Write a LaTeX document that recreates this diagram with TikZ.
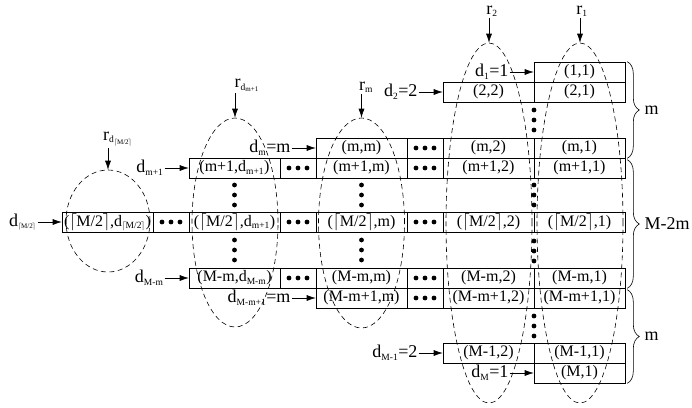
\documentclass[tikz,border=0pt]{standalone}
\usepackage{fontspec}
\setmainfont{Liberation Serif}
\usetikzlibrary{arrows.meta, positioning, shapes.geometric, decorations.pathreplacing}

\newcommand{\sbs}[1]{\textsubscript{\fontsize{9.5}{10}\selectfont #1}}
\newcommand{\ssbs}[1]{\textsubscript{\fontsize{7}{7}\selectfont #1}}
\newcommand{\ceilM}{\mbox{$\lceil$\kern-0.6pt M/2\kern-0.6pt$\rceil$}}
\newcommand{\vdotsat}[2]{\fill (#1,#2-10) circle (2.4pt) (#1,#2) circle (2.4pt) (#1,#2+10) circle (2.4pt);}

\begin{document}
\begin{tikzpicture}[x=1pt, y=-1pt, line width=0.6pt, >={Latex[length=9pt,width=6pt]},
    cell/.style={draw, rectangle, minimum width=91pt, minimum height=20pt, inner sep=0pt, font=\fontsize{16}{18}\selectfont},
    gap/.style={draw, rectangle, minimum width=36pt, minimum height=20pt, inner sep=0pt,
      path picture={\fill (path picture bounding box.center) circle (2.4pt) ++(-9pt,0pt) circle (2.4pt) ++(18pt,0pt) circle (2.4pt);}},
    lab/.style={inner sep=1pt, font=\fontsize{18}{20}\selectfont},
    ring/.style={draw, ellipse, dash pattern=on 5pt off 3.5pt, inner sep=0pt}]
  \useasboundingbox (0,0) rectangle (692,407);

  % cells
  \node[cell] (a1) at (579.5,72) {(1,1)};

  \node[cell] (b1) at (579.5,92) {(2,1)};
  \node[cell] (b2) at (488.5,92) {(2,2)};

  \node[cell] (m1) at (579.5,148) {(m,1)};
  \node[cell] (m2) at (488.5,148) {(m,2)};
  \node[gap] (mg3) at (425,148) {};
  \node[cell] (mm) at (361.5,148) {(m,m)};

  \node[cell] (n1) at (579.5,168) {(m+1,1)};
  \node[cell] (n2) at (488.5,168) {(m+1,2)};
  \node[gap] (ng3) at (425,168) {};
  \node[cell] (nm) at (361.5,168) {(m+1,m)};
  \node[gap] (ng2) at (298,168) {};
  \node[cell] (nd) at (234.5,168) {(m+1,d\sbs{m+1})};

  \node[cell] (h1) at (579.5,222) {(\ceilM,1)};
  \node[cell] (h2) at (488.5,222) {(\ceilM,2)};
  \node[gap] (hg3) at (425,222) {};
  \node[cell] (hm) at (361.5,222) {(\ceilM,m)};
  \node[gap] (hg2) at (298,222) {};
  \node[cell] (hd) at (234.5,222) {(\ceilM,d\sbs{m+1})};
  \node[gap] (hg1) at (171,222) {};
  \node[cell] (hh) at (107.5,222) {(\ceilM,d\sbs{\ceilM})};

  \node[cell] (k1) at (579.5,278) {(M-m,1)};
  \node[cell] (k2) at (488.5,278) {(M-m,2)};
  \node[gap] (kg3) at (425,278) {};
  \node[cell] (km) at (361.5,278) {(M-m,m)};
  \node[gap] (kg2) at (298,278) {};
  \node[cell] (kd) at (234.5,278) {(M-m,d\sbs{M-m})};

  \node[cell] (l1) at (579.5,298) {(M-m+1,1)};
  \node[cell] (l2) at (488.5,298) {(M-m+1,2)};
  \node[gap] (lg3) at (425,298) {};
  \node[cell] (lm) at (361.5,298) {(M-m+1,m)};

  \node[cell] (p1) at (579.5,353) {(M-1,1)};
  \node[cell] (p2) at (488.5,353) {(M-1,2)};

  \node[cell] (q1) at (579.5,373) {(M,1)};

  % vertical dots
  \vdotsat{234.5}{195} \vdotsat{234.5}{250}
  \vdotsat{361.5}{195} \vdotsat{361.5}{250}
  \vdotsat{534}{120} \vdotsat{534}{195} \vdotsat{534}{251} \vdotsat{534}{326}

  % inputs
  \node[lab, left=24pt of a1] (da) {d\sbs{1}=1};
  \node[lab, left=24pt of b2] (db) {d\sbs{2}=2};
  \node[lab, left=24pt of mm] (dm) {d\sbs{m}=m};
  \node[lab, left=24pt of nd] (dn) {d\sbs{m+1}};
  \node[lab, left=24pt of hh] (dh) {d\ssbs{\ceilM}};
  \node[lab, left=24pt of kd] (dk) {d\sbs{M-m}};
  \node[lab, left=24pt of lm] (dl) {d\sbs{M-m+1}=m};
  \node[lab, left=24pt of p2] (dp) {d\sbs{M-1}=2};
  \node[lab, left=24pt of q1] (dq) {d\sbs{M}=1};
  \draw[->] (da) -- (a1);
  \draw[->] (db) -- (b2);
  \draw[->] (dm) -- (mm);
  \draw[->] (dn) -- (nd);
  \draw[->] (dh) -- (hh);
  \draw[->] (dk) -- (kd);
  \draw[->] (dl) -- (lm);
  \draw[->] (dp) -- (p2);
  \draw[->] (dq) -- (q1);

  % dashed rings
  \node[ring, minimum width=86pt, minimum height=360pt] (e1) at (580,223) {};
  \node[ring, minimum width=86pt, minimum height=360pt] (e2) at (489,223) {};
  \node[ring, minimum width=86pt, minimum height=210pt] (em) at (361.5,223) {};
  \node[ring, minimum width=86pt, minimum height=209pt] (ed) at (235,222.5) {};
  \node[ring, minimum width=84pt, minimum height=102pt] (eh) at (108,221) {};

  \node[lab, anchor=south] (r1) at (582,18) {r\sbs{1}};
  \node[lab, anchor=south] (r2) at (492,18) {r\sbs{2}};
  \node[lab, anchor=south] (rm) at (366,94) {r\sbs{m}};
  \node[lab, anchor=south] (rd) at (247,93) {r\sbs{d\ssbs{m+1}}};
  \node[lab, anchor=south] (rh) at (118,148) {r\sbs{d\ssbs{\ceilM}}};
  \draw[->] (e1.north |- r1.south) -- (e1.north);
  \draw[->] (e2.north |- r2.south) -- (e2.north);
  \draw[->] (em.north |- rm.south) -- (em.north);
  \draw[->] (ed.north |- rd.south) -- (ed.north);
  \draw[->] (eh.north |- rh.south) -- (eh.north);

  % braces
  \draw[decorate, decoration={brace, amplitude=12pt}] ([xshift=2pt]a1.north east) -- node[lab, right=16pt] {m} ([xshift=2pt]m1.south east);
  \draw[decorate, decoration={brace, amplitude=12pt}] ([xshift=2pt,yshift=-2pt]n1.north east) -- node[lab, right=16pt] {M-2m} ([xshift=2pt]k1.south east);
  \draw[decorate, decoration={brace, amplitude=12pt}] ([xshift=2pt,yshift=-2pt]l1.north east) -- node[lab, right=16pt] {m} ([xshift=2pt]q1.south east);
\end{tikzpicture}
\end{document}
